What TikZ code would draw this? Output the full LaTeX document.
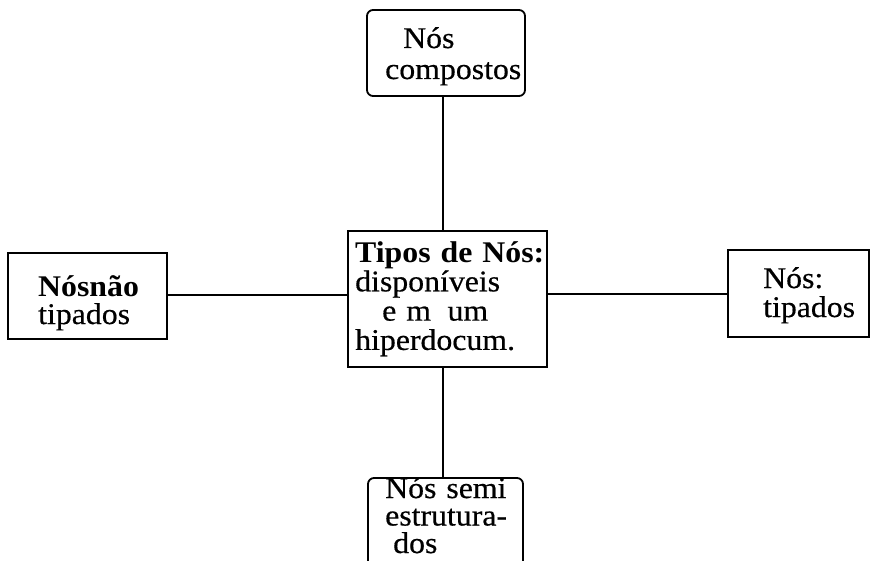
\documentclass[tikz,border=0pt]{standalone}
\usepackage{fontspec}
\setmainfont{Liberation Serif}[FakeStretch=1.06, UprightFeatures={FakeBold=0.5}]
\begin{document}
\begin{tikzpicture}[x=1pt,y=-1pt,
  box/.style={draw, line width=1.8pt, inner sep=0pt},
  rbox/.style={box, rounded corners=6pt},
  txt/.style={inner sep=0pt, anchor=base west, text width=200pt, align=left,
    font=\fontsize{30}{#1}\selectfont},
  link/.style={line width=1.8pt}]
  \useasboundingbox (0,0) rectangle (874,561);
  \clip (0,0) rectangle (874,561);

  % boxes
  \node[rbox, minimum width=158pt, minimum height=86pt] (top) at (446,53) {};
  \node[box, minimum width=199pt, minimum height=136pt] (center) at (447.5,299) {};
  \node[box, minimum width=159pt, minimum height=86pt] (left) at (87.5,296) {};
  \node[box, minimum width=141pt, minimum height=87pt] (right) at (798.5,293.5) {};
  \node[rbox, minimum width=155pt, minimum height=122pt] (bottom) at (445.5,539) {};

  % labels
  \node[txt=31] (ttop) at (385,48) {\hspace*{18pt}Nós\\compostos};
  \node[txt=29.3] (tcenter) at (355,262)
    {{\bfseries Tipos de Nós:}\\disponíveis\\\hspace*{27pt}e m\hspace{0.55em}um\\hiperdocum.};
  \node[txt=28] (tleft) at (38,296) {{\bfseries Nósnão}\\tipados};
  \node[txt=29] (tright) at (763,288) {Nós:\\tipados};
  \node[txt=27.5] (tbottom) at (385,498) {Nós semi\\estrutura-\\\hspace*{8pt}dos};

  % connectors
  \coordinate (vx) at (443,0);
  \coordinate (hl) at (0,295);
  \coordinate (hr) at (0,294);
  \draw[link] (vx |- top.south) -- (vx |- center.north);
  \draw[link] (vx |- center.south) -- (vx |- bottom.north);
  \draw[link] (left.east |- hl) -- (center.west |- hl);
  \draw[link] (center.east |- hr) -- (right.west |- hr);
\end{tikzpicture}
\end{document}
